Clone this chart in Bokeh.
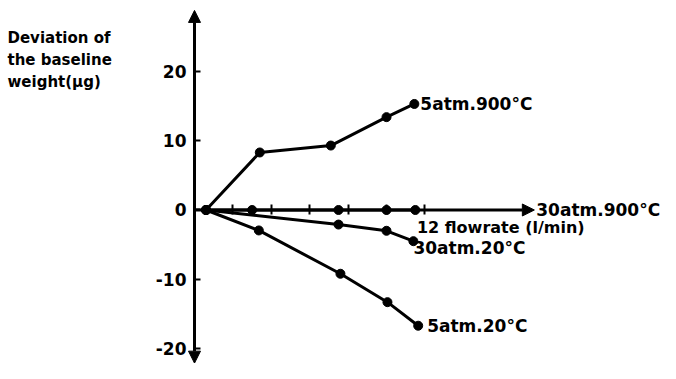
from bokeh.plotting import figure
from bokeh.models import Range1d, FixedTicker, Arrow, NormalHead, LinearAxis
from bokeh.core.properties import value
from bokeh.embed import file_html
from bokeh.resources import INLINE

# Data
flow_5atm_900 = [0.6, 3.4, 7.1, 10.0, 11.45]
dev_5atm_900 = [0.0, 8.3, 9.3, 13.4, 15.3]

flow_30atm_900 = [0.6, 3.0, 7.5, 10.0, 11.5]
dev_30atm_900 = [0.0, 0.0, 0.0, 0.0, 0.0]

flow_30atm_20 = [0.6, 7.5, 10.0, 11.4]
dev_30atm_20 = [0.0, -2.1, -3.0, -4.5]

flow_5atm_20 = [0.6, 3.35, 7.6, 10.05, 11.65]
dev_5atm_20 = [0.0, -2.95, -9.2, -13.3, -16.7]

y_ticks = [-20, -10, 0, 10, 20]
y_tick_labels = ["-20", "-10", "0", "10", "20"]
x_ticks = [2, 4, 6, 8, 10, 12]

FONT = "DejaVu Sans"

p = figure(width=660, height=363, output_backend="svg", toolbar_location=None,
           x_range=Range1d(-10.104, 24.27), y_range=Range1d(-22.15, 30.23),
           x_axis_type=None, y_axis_type=None, min_border=0)
p.outline_line_color = None
p.xgrid.visible = False
p.ygrid.visible = False

yax = LinearAxis(ticker=FixedTicker(ticks=y_ticks), fixed_location=0)
yax.major_label_overrides = {t: s for t, s in zip(y_ticks, y_tick_labels)}
yax.axis_line_color = None
yax.major_tick_in = 6
yax.major_tick_out = 0
yax.major_tick_line_width = 2
yax.major_tick_line_color = "black"
yax.minor_tick_line_color = None
yax.major_label_standoff = 8
yax.major_label_text_font = FONT
yax.major_label_text_font_style = "bold"
yax.major_label_text_font_size = "17px"
yax.major_label_text_color = "black"
p.add_layout(yax, "left")

xax = LinearAxis(ticker=FixedTicker(ticks=x_ticks), fixed_location=0)
xax.major_label_overrides = {t: "" for t in x_ticks}
xax.axis_line_color = None
xax.major_tick_in = 5
xax.major_tick_out = 5
xax.major_tick_line_width = 2
xax.major_tick_line_color = "black"
xax.minor_tick_line_color = None
p.add_layout(xax, "below")

# axis arrows
p.add_layout(Arrow(x_start=0, y_start=-22.1, x_end=0, y_end=28.8,
                   line_width=3, line_color="black",
                   start=NormalHead(size=12, fill_color="black", line_color="black"),
                   end=NormalHead(size=12, fill_color="black", line_color="black")))
p.add_layout(Arrow(x_start=0, y_start=0, x_end=17.7, y_end=0,
                   line_width=3, line_color="black",
                   end=NormalHead(size=12, fill_color="black", line_color="black")))

series = [
    (flow_5atm_900, dev_5atm_900, "5atm.900°C", 6, 0),
    (flow_30atm_900, dev_30atm_900, None, 0, 0),
    (flow_30atm_20, dev_30atm_20, "30atm.20°C", 0, -7),
    (flow_5atm_20, dev_5atm_20, "5atm.20°C", 9, 0),
]
for fx, fy, lab, xo, yo in series:
    p.line(fx, fy, line_width=3, line_color="black")
    p.scatter(fx, fy, size=9, fill_color="black", line_color="black")
    if lab:
        p.text([fx[-1]], [fy[-1]], text=[lab], x_offset=xo, y_offset=-yo,
               text_font=value(FONT), text_font_style="bold", text_font_size="17px",
               text_baseline="middle", text_align="left", text_color="black")

p.text([17.8], [0.0], text=["30atm.900°C"], text_font=value(FONT), text_font_style="bold",
       text_font_size="17px", text_baseline="middle", text_align="left", text_color="black")
p.text([x_ticks[-1]], [0.0], text=["12 flowrate (l/min)"], x_offset=-8, y_offset=8,
       text_font=value(FONT), text_font_style="bold", text_font_size="16px",
       text_baseline="top", text_align="left", text_color="black")
p.text([-9.74], [26.05], text=["Deviation of\nthe baseline\nweight(μg)"],
       text_font=value(FONT), text_font_style="bold", text_font_size="15px",
       text_baseline="top", text_align="left", text_line_height=1.2, text_color="black")

open("out.html", "w").write(file_html(p, INLINE))
